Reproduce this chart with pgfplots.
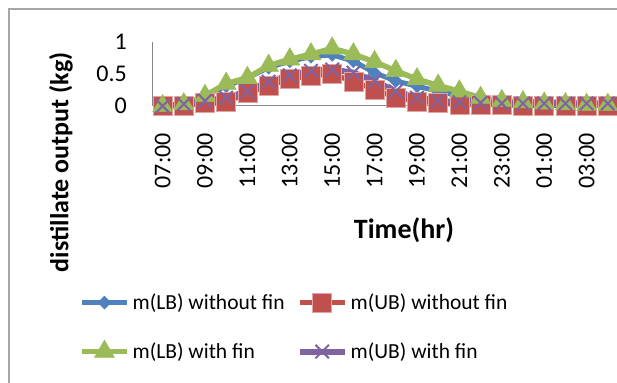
\documentclass[border=0pt]{standalone}
\usepackage{fontspec}
\setmainfont{Carlito}
\usepackage{pgfplots}
\pgfplotsset{compat=1.18}
\usepackage{pgfplotstable}

\definecolor{exblue}{HTML}{4F81BD}
\definecolor{exred}{HTML}{C0504D}
\definecolor{exredrim}{HTML}{E2A4A2}
\definecolor{exgreen}{HTML}{9BBB59}
\definecolor{expurple}{HTML}{8064A2}
\definecolor{axgray}{HTML}{868686}
\definecolor{framegray}{HTML}{A6A6A6}

% hourly distillate output, 07:00 (idx 0) to 06:00 (idx 23)
\pgfplotstableread{
idx lbnofin ubnofin lbfin ubfin
0  0.00 0.00 0.00 0.00
1  0.02 0.00 0.03 0.03
2  0.17 0.05 0.16 0.08
3  0.31 0.06 0.35 0.13
4  0.44 0.20 0.44 0.23
5  0.60 0.32 0.63 0.38
6  0.70 0.42 0.73 0.48
7  0.77 0.47 0.81 0.55
8  0.80 0.50 0.90 0.57
9  0.70 0.38 0.81 0.52
10 0.52 0.26 0.69 0.39
11 0.39 0.13 0.55 0.23
12 0.31 0.07 0.42 0.13
13 0.23 0.05 0.32 0.08
14 0.16 0.02 0.23 0.06
15 0.10 0.02 0.13 0.05
16 0.08 0.02 0.08 0.04
17 0.07 0.01 0.06 0.04
18 0.07 0.01 0.04 0.04
19 0.05 0.01 0.03 0.04
20 0.04 0.01 0.02 0.04
21 0.03 0.01 0.02 0.04
22 0.03 0.01 0.02 0.04
23 0.03 0.01 0.02 0.04
}\outputdata

\begin{document}
\begin{tikzpicture}[x=1pt,y=1pt]
\useasboundingbox (0,0) rectangle (617,382);
\fill[white] (0,0) rectangle (617,382);
% chart area frame
\draw[framegray, line width=1.5pt] (9,-10) -- (9,373) -- (640,373);
\begin{axis}[
  at={(152pt,276pt)}, anchor=south west, scale only axis,
  width=508.8pt, height=64pt,
  xmin=-0.5, xmax=23.5, ymin=0, ymax=1,
  clip=false,
  axis x line*=bottom, axis y line*=left,
  axis line style={axgray, line width=1pt},
  major tick length=0pt,
  xtick={0,2,...,20},
  xticklabels={07:00,09:00,11:00,13:00,15:00,17:00,19:00,21:00,23:00,01:00,03:00},
  ytick={0,0.5,1}, yticklabels={0,0.5,1},
  ticklabel style={font=\fontsize{24}{28}\selectfont, inner sep=0pt},
  xticklabel style={rotate=90, anchor=east},
  xticklabel shift=27pt,
  yticklabel shift=25pt,
  xlabel={Time(hr)},
  xlabel style={font=\bfseries\fontsize{28}{32}\selectfont, at={(axis description cs:0.4953,-1.94)}, anchor=center},
  ylabel={distillate output (kg)},
  every axis y label/.style={font=\bfseries\fontsize{26}{30}\selectfont, at={(axis description cs:-0.1789,-0.88)}, rotate=90, anchor=center},
  legend columns=2,
  legend style={at={(axis description cs:-0.1435,-2.92)}, anchor=north west,
    draw=none, fill=none, inner sep=0pt,
    font=\fontsize{21.5}{26}\selectfont,
    nodes={inner sep=0pt},
    /tikz/every odd column/.append style={column sep=3pt},
    /tikz/every even column/.append style={column sep=4pt},
    row sep=28pt},
  legend image code/.code={\draw[mark repeat=2,mark phase=2,#1] plot coordinates {(0pt,0pt) (22.5pt,0pt) (45pt,0pt)};},
]
\addplot[exblue, line width=5pt, mark=diamond*,
  mark options={solid, line width=0.5pt, fill=exblue, draw=exblue, xscale=1.33, mark size=6.5pt}]
  table[x=idx, y=lbnofin]{\outputdata};
\addplot[exred, line width=5pt, mark=square*,
  mark options={solid, line width=0.6pt, fill=exred, draw=exredrim, mark size=9.5pt}]
  table[x=idx, y=ubnofin]{\outputdata};
\addplot[exgreen, line width=5.5pt, mark=triangle*,
  mark options={solid, line width=0.5pt, fill=exgreen, draw=exgreen, mark size=11.5pt}]
  table[x=idx, y=lbfin]{\outputdata};
\addplot[expurple, line width=6pt, mark=x,
  mark options={solid, line width=2pt, draw=expurple, mark size=9.5pt}]
  table[x=idx, y=ubfin]{\outputdata};
\legend{\makebox[160pt][l]{m(LB) without fin},\makebox[160pt][l]{m(UB) without fin},\makebox[160pt][l]{m(LB) with fin},\makebox[160pt][l]{m(UB) with fin}}
\end{axis}
\end{tikzpicture}
\end{document}
